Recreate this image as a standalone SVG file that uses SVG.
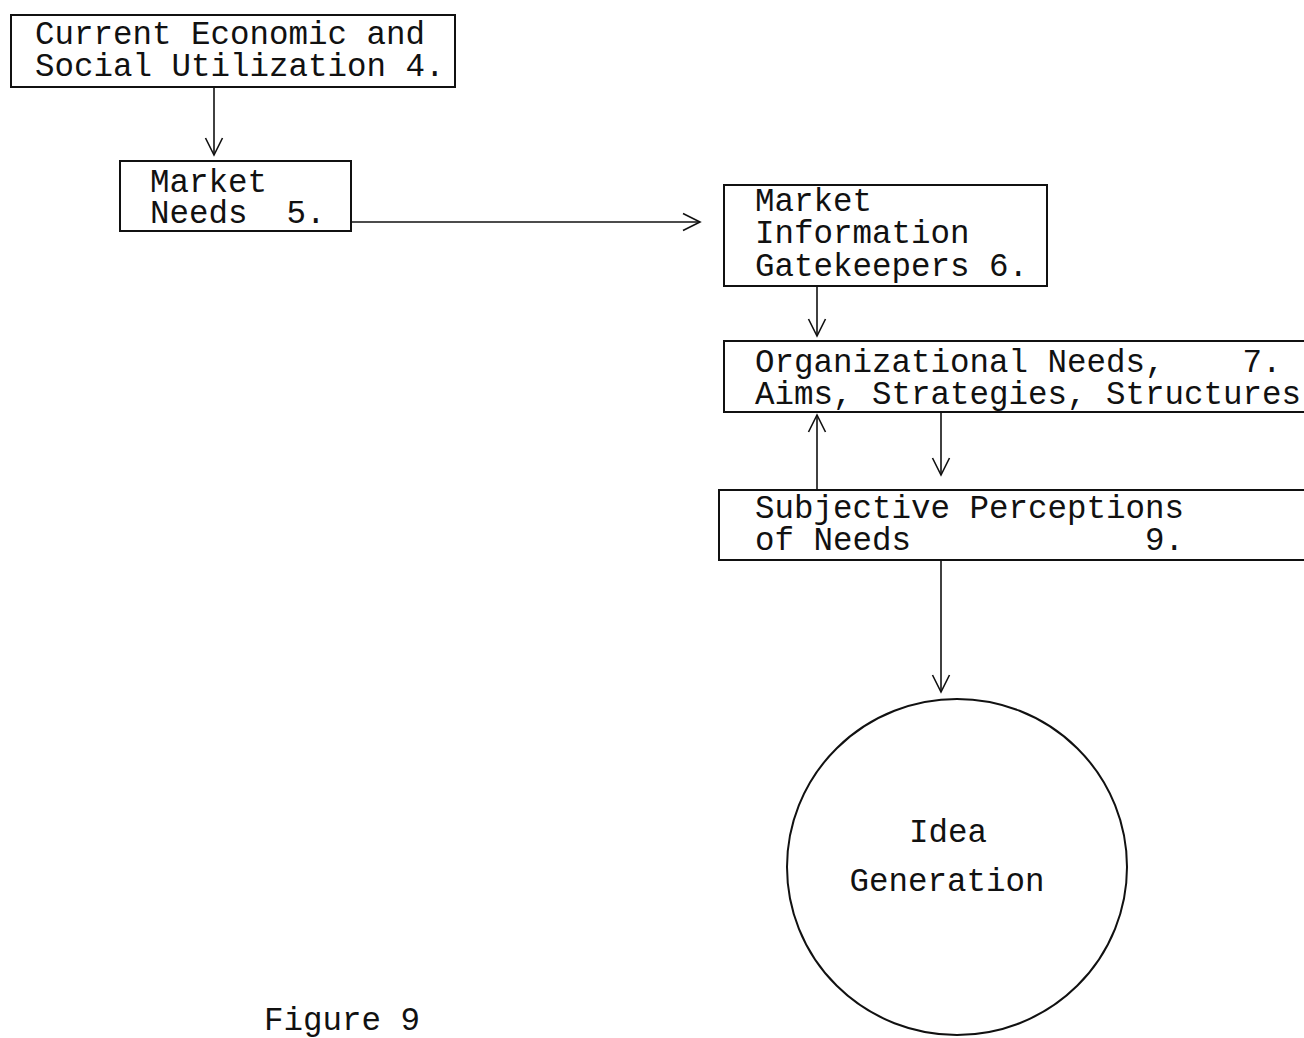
<svg xmlns="http://www.w3.org/2000/svg" width="1304" height="1038" viewBox="0 0 1304 1038">
  <style>
    .box { fill: none; stroke: #111; stroke-width: 2; }
    .lbl { font-family: "Liberation Mono", "Courier New", monospace; font-size: 32.5px; fill: #111; white-space: pre; }
    .edge { fill: none; stroke: #111; stroke-width: 1.6; }
  </style>
  <defs>
    <marker id="vee" viewBox="0 0 20 20" refX="18" refY="10" markerWidth="20" markerHeight="20" markerUnits="userSpaceOnUse" orient="auto">
      <path d="M1,1.5 L18,10 L1,18.5" fill="none" stroke="#111" stroke-width="1.6"/>
    </marker>
  </defs>
  <rect width="1304" height="1038" fill="#fff"/>

  <g id="utilization">
    <rect class="box" x="11" y="15" width="444" height="72"/>
    <text class="lbl" x="35" y="44">Current Economic and</text>
    <text class="lbl" x="35" y="76">Social Utilization 4.</text>
  </g>

  <g id="market-needs">
    <rect class="box" x="120" y="161" width="231" height="70"/>
    <text class="lbl" x="150" y="192">Market</text>
    <text class="lbl" x="150" y="223">Needs  5.</text>
  </g>

  <g id="gatekeepers">
    <rect class="box" x="724" y="185" width="323" height="101"/>
    <text class="lbl" x="755" y="211">Market</text>
    <text class="lbl" x="755" y="243">Information</text>
    <text class="lbl" x="755" y="276">Gatekeepers 6.</text>
  </g>

  <g id="organizational-needs">
    <rect class="box" x="724" y="341" width="590" height="71"/>
    <text class="lbl" x="755" y="372">Organizational Needs,    7.</text>
    <text class="lbl" x="755" y="404">Aims, Strategies, Structures</text>
  </g>

  <g id="subjective-perceptions">
    <rect class="box" x="719" y="490" width="595" height="70"/>
    <text class="lbl" x="755" y="518">Subjective Perceptions</text>
    <text class="lbl" x="755" y="550">of Needs            9.</text>
  </g>

  <g id="idea-generation">
    <ellipse class="box" cx="957" cy="867" rx="170" ry="168"/>
    <text class="lbl" x="948" y="842" text-anchor="middle">Idea</text>
    <text class="lbl" x="947" y="891" text-anchor="middle">Generation</text>
  </g>

  <g id="connectors">
    <line class="edge" x1="214" y1="87" x2="214" y2="155" marker-end="url(#vee)"/>
    <line class="edge" x1="351" y1="222" x2="700" y2="222" marker-end="url(#vee)"/>
    <line class="edge" x1="817" y1="286" x2="817" y2="336" marker-end="url(#vee)"/>
    <line class="edge" x1="941" y1="412" x2="941" y2="475" marker-end="url(#vee)"/>
    <line class="edge" x1="817" y1="490" x2="817" y2="415" marker-end="url(#vee)"/>
    <line class="edge" x1="941" y1="560" x2="941" y2="692" marker-end="url(#vee)"/>
  </g>

  <text class="lbl" x="264" y="1030">Figure 9</text>
</svg>
